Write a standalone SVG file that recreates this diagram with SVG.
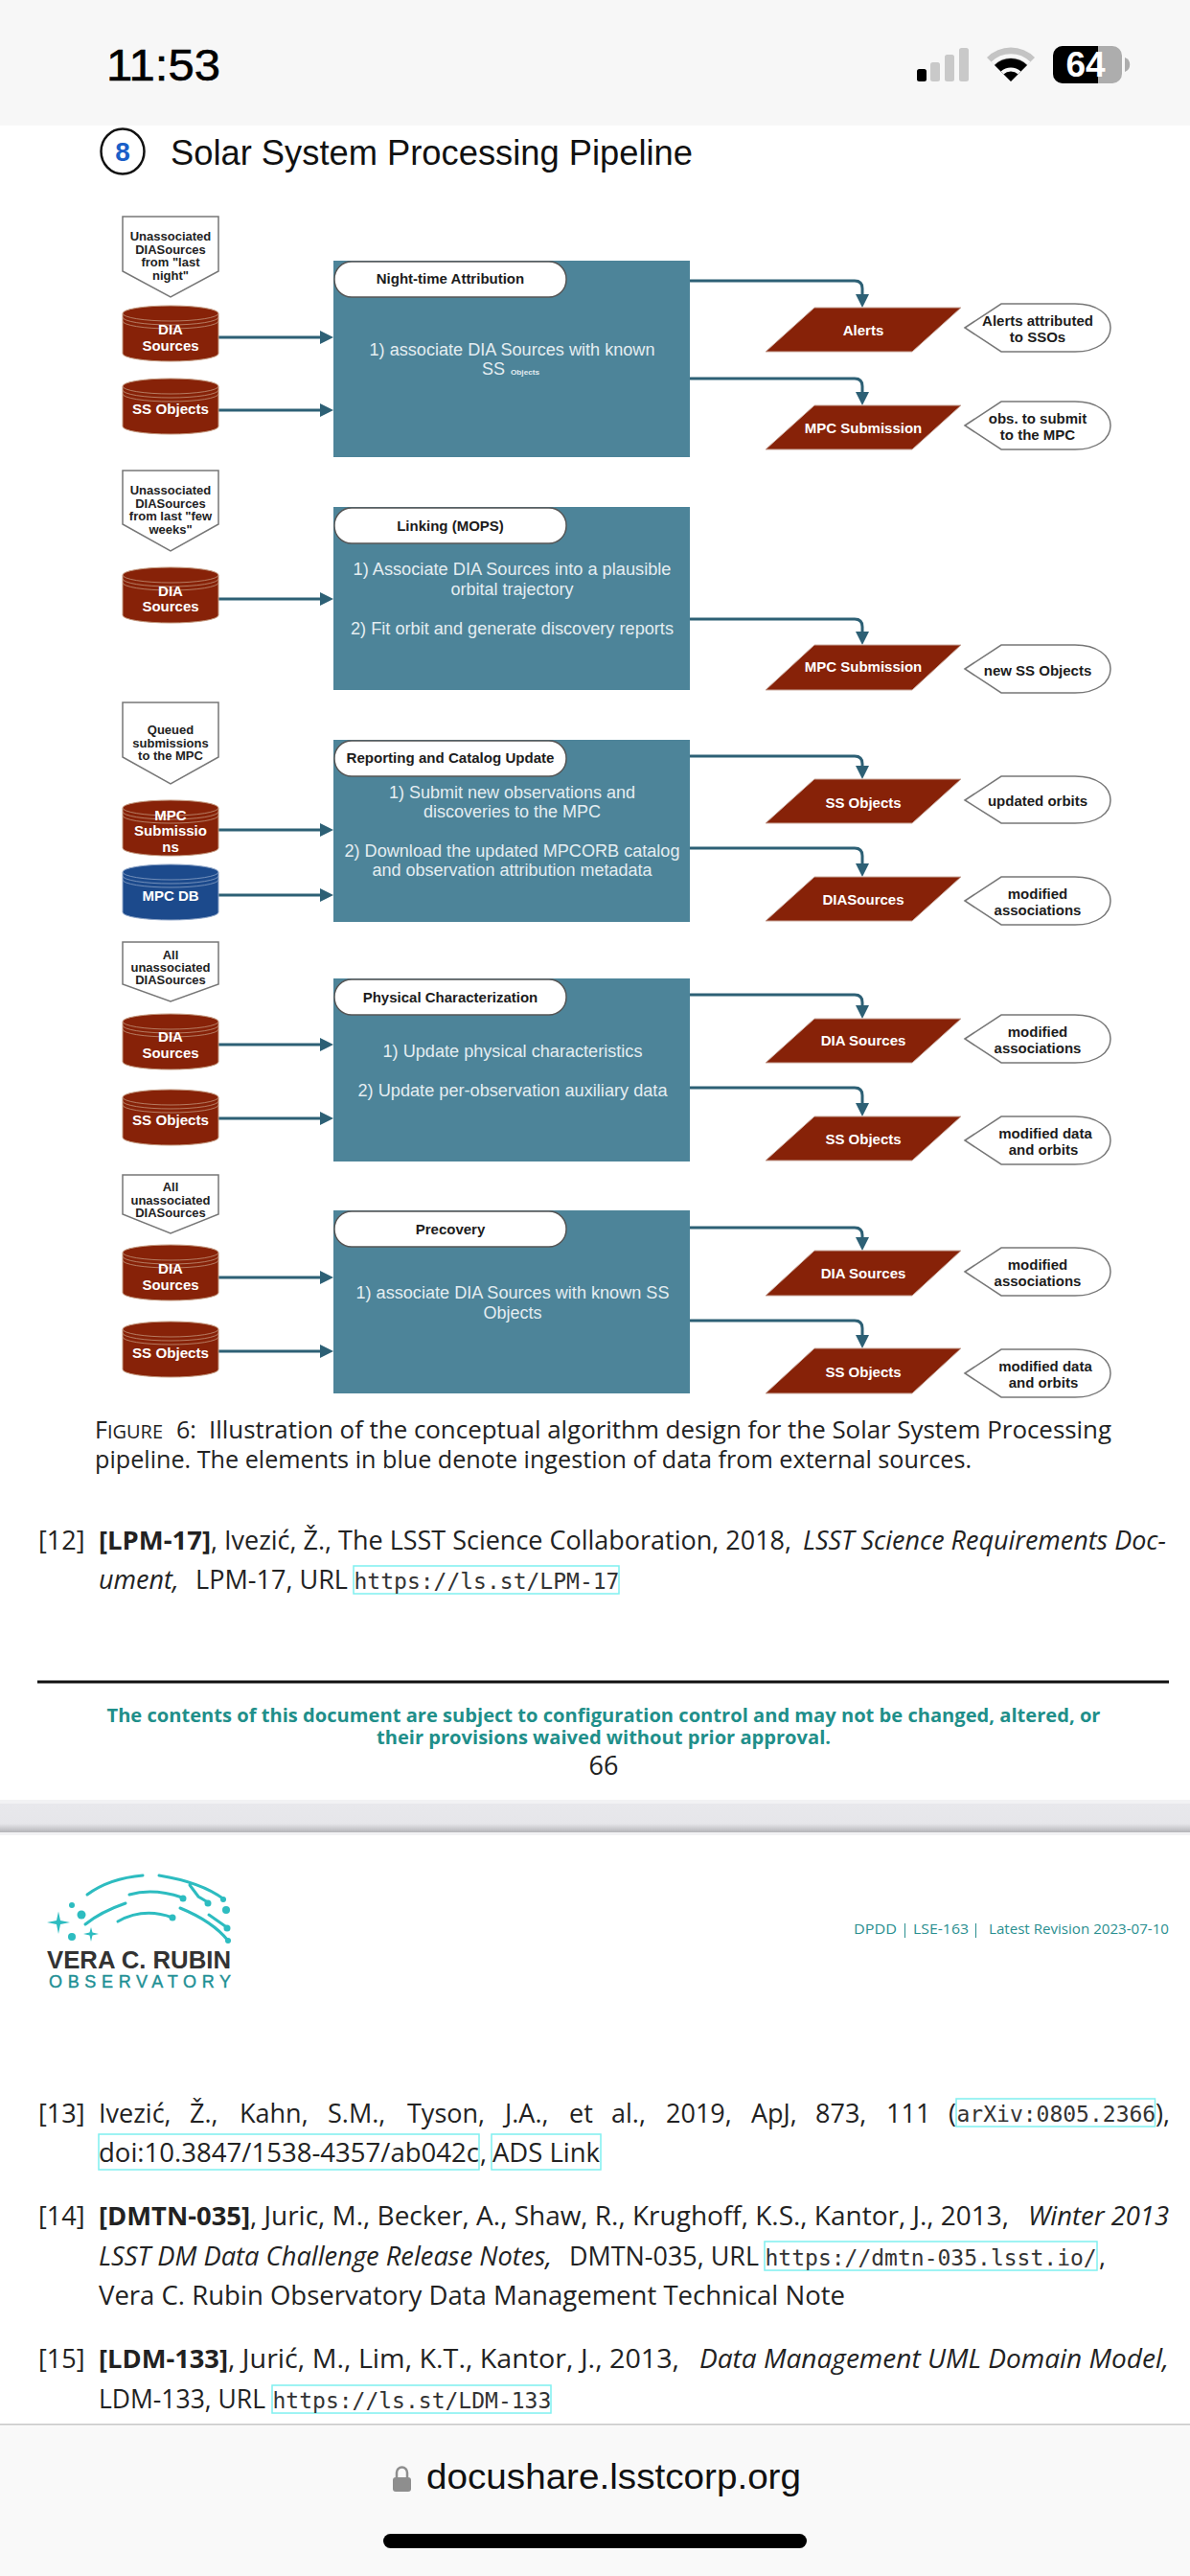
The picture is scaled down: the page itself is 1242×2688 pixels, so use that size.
<svg xmlns="http://www.w3.org/2000/svg" width="1242" height="2688" viewBox="0 0 1242 2688">
<style>
text{font-family:"Liberation Sans",Arial,sans-serif}
.box{fill:#4d8499}
.pill{fill:#fff;stroke:#555;stroke-width:1.5}
.note{fill:#fff;stroke:#777;stroke-width:1.5}
.call{fill:#fff;stroke:#777;stroke-width:1.5}
.para{fill:#872208;stroke:#c9a89c;stroke-width:1}
.red{fill:#872208;color:#c49a80}
.blue{fill:#1c4a8c;color:#8fa6c8}
.n{font-size:13px;font-weight:700;fill:#222;text-anchor:middle}
.w{font-size:15px;font-weight:700;fill:#fff;text-anchor:middle}
.k{font-size:15px;font-weight:700;fill:#1c1c1c;text-anchor:middle}
.b{font-size:18px;fill:#e4edf1;text-anchor:middle}
.o{font-family:"Open Sans","Noto Sans",sans-serif;font-size:27px;fill:#222}
.c{font-family:"Open Sans","Noto Sans",sans-serif;font-size:25px;fill:#222}
.ob{font-weight:700}
.oi{font-style:italic}
.m{font-family:"DejaVu Sans Mono","Liberation Mono",monospace;font-size:23px;fill:#333}
.g{font-family:"Open Sans","Noto Sans",sans-serif;font-size:20px;font-weight:700;fill:#1f8f8a;text-anchor:middle}
.lnk{fill:none;stroke:#7ff0f0;stroke-width:1.5}
.cn path{fill:none;stroke:#2d6075;stroke-width:3;marker-end:url(#ah)}
.lg{fill:none;stroke:#2dbcc0;stroke-width:3;stroke-linecap:round}
.ld{fill:#2dbcc0}
.h{font-family:"Open Sans","Noto Sans",sans-serif;font-size:14px;fill:#2a8f90}
</style>
<defs>
<marker id="ah" markerUnits="userSpaceOnUse" markerWidth="14" markerHeight="14" refX="8" refY="7" orient="auto"><path d="M0 0L14 7L0 14Z" fill="#2d6075"/></marker>
<g id="cyl">
<path d="M0 8A50 8 0 0 1 100 8V50A50 8 0 0 1 0 50Z" stroke="currentColor" stroke-width="1"/>
<path d="M0 8A50 8 0 0 0 100 8M0 12A50 8 0 0 0 100 12M0 16A50 8 0 0 0 100 16" fill="none" stroke="currentColor" stroke-width="1" stroke-opacity=".75"/>
</g>
<linearGradient id="band" x1="0" y1="0" x2="0" y2="1"><stop offset="0" stop-color="#e8e8ec"/><stop offset=".7" stop-color="#e6e6ea"/><stop offset="1" stop-color="#b4b4b8"/></linearGradient>
</defs>
<rect width="1242" height="2688" fill="#fff"/>

<g id="status-bar">
<rect width="1242" height="131" fill="#f7f7f7"/>
<text x="111" y="84" font-size="46" font-weight="400" fill="#000" stroke="#000" stroke-width=".6" textLength="119" lengthAdjust="spacingAndGlyphs">11:53</text>
<rect x="957" y="72" width="10" height="13" rx="2.5" fill="#000"/>
<rect x="971" y="65" width="10" height="20" rx="2.5" fill="#c9c9c9"/>
<rect x="986" y="57" width="10" height="28" rx="2.5" fill="#c9c9c9"/>
<rect x="1001" y="50" width="10" height="35" rx="2.5" fill="#c9c9c9"/>
<path d="M1055 85L1030 60A35 35 0 0 1 1080 60Z" fill="#c4c4c4"/>
<path d="M1055 85L1038 68A24 24 0 0 1 1072 68Z" fill="#000"/>
<path d="M1036 66A27 27 0 0 1 1074 66M1046 76A13 13 0 0 1 1064 76" fill="none" stroke="#f7f7f7" stroke-width="4"/>
<rect x="1099" y="48" width="72" height="39" rx="10" fill="#adadad"/>
<path d="M1109 48H1146V87H1109A10 10 0 0 1 1099 77V58A10 10 0 0 1 1109 48Z" fill="#000"/>
<path d="M1174 60A8 8 0 0 1 1174 75Z" fill="#adadad"/>
<text x="1133" y="80" font-size="37" font-weight="700" fill="#fff" text-anchor="middle">64</text>
</g>

<g id="title">
<ellipse cx="128" cy="158" rx="22.5" ry="23.5" fill="#fff" stroke="#111" stroke-width="2.5"/>
<text x="128" y="168" font-size="28" font-weight="700" fill="#1a5fc8" text-anchor="middle">8</text>
<text x="178" y="172" font-size="37" fill="#111" textLength="545" lengthAdjust="spacingAndGlyphs">Solar System Processing Pipeline</text>
</g>

<g id="connectors" class="cn">
<path d="M228 352H342"/><path d="M228 428H342"/>
<path d="M720 293H892Q900 293 900 301V315"/><path d="M720 395H892Q900 395 900 403V417"/>
<path d="M228 625H342"/>
<path d="M720 646H892Q900 646 900 654V667"/>
<path d="M228 866H342"/><path d="M228 934H342"/>
<path d="M720 789H892Q900 789 900 797V807"/><path d="M720 885H892Q900 885 900 893V909"/>
<path d="M228 1090H342"/><path d="M228 1167H342"/>
<path d="M720 1038H892Q900 1038 900 1046V1057"/><path d="M720 1135H892Q900 1135 900 1143V1159"/>
<path d="M228 1333H342"/><path d="M228 1410H342"/>
<path d="M720 1281H892Q900 1281 900 1289V1299"/><path d="M720 1378H892Q900 1378 900 1386V1401"/>
</g>

<g id="note-1"><polygon class="note" points="128,226 228,226 228,283 178,310 128,283"/>
<text class="n" x="178" y="251">Unassociated</text><text class="n" x="178" y="265">DIASources</text><text class="n" x="178" y="278">from "last</text><text class="n" x="178" y="292">night"</text></g>
<g id="cyl-1a" class="red"><use href="#cyl" x="128" y="319"/><text class="w" x="178" y="349">DIA</text><text class="w" x="178" y="366">Sources</text></g>
<g id="cyl-1b" class="red"><use href="#cyl" x="128" y="395"/><text class="w" x="178" y="432" textLength="80" lengthAdjust="spacingAndGlyphs">SS Objects</text></g>
<g id="box-1"><rect class="box" x="348" y="272" width="372" height="205"/><rect class="pill" x="349" y="273" width="242" height="37" rx="18"/>
<text class="k" x="470" y="296">Night-time Attribution</text>
<text class="b" x="534.5" y="371" textLength="298" lengthAdjust="spacingAndGlyphs">1) associate DIA Sources with known</text>
<text class="b" x="515" y="391">SS</text><text x="548" y="391" font-size="8" font-weight="700" fill="#e4edf1" text-anchor="middle" textLength="30" lengthAdjust="spacingAndGlyphs">Objects</text></g>
<g id="out-1a"><polygon class="para" points="850,321 1003,321 952,367 799,367"/><text class="w" x="901" y="349.5">Alerts</text></g>
<g id="call-1a"><path class="call" d="M1007 342L1045 317H1122C1145 317 1159 328 1159 342S1145 367 1122 367H1045Z"/><text class="k" x="1083" y="339.5">Alerts attributed</text><text class="k" x="1083" y="356.5">to SSOs</text></g>
<g id="out-1b"><polygon class="para" points="850,423 1003,423 952,469 799,469"/><text class="w" x="901" y="451.5">MPC Submission</text></g>
<g id="call-1b"><path class="call" d="M1007 444L1045 419H1122C1145 419 1159 430 1159 444S1145 469 1122 469H1045Z"/><text class="k" x="1083" y="442">obs. to submit</text><text class="k" x="1083" y="458.5">to the MPC</text></g>

<g id="note-2"><polygon class="note" points="128,491 228,491 228,547 178,575 128,547"/>
<text class="n" x="178" y="516">Unassociated</text><text class="n" x="178" y="530">DIASources</text><text class="n" x="178" y="543">from last "few</text><text class="n" x="178" y="557">weeks"</text></g>
<g id="cyl-2a" class="red"><use href="#cyl" x="128" y="592"/><text class="w" x="178" y="622">DIA</text><text class="w" x="178" y="638">Sources</text></g>
<g id="box-2"><rect class="box" x="348" y="529" width="372" height="191"/><rect class="pill" x="349" y="530" width="242" height="37" rx="18"/>
<text class="k" x="470" y="554">Linking (MOPS)</text>
<text class="b" x="534.5" y="600" textLength="332" lengthAdjust="spacingAndGlyphs">1) Associate DIA Sources into a plausible</text>
<text class="b" x="534.5" y="621">orbital trajectory</text>
<text class="b" x="534.5" y="662" textLength="337" lengthAdjust="spacingAndGlyphs">2) Fit orbit and generate discovery reports</text></g>
<g id="out-2a"><polygon class="para" points="850,673 1003,673 952,720 799,720"/><text class="w" x="901" y="701">MPC Submission</text></g>
<g id="call-2a"><path class="call" d="M1007 698L1045 673H1122C1145 673 1159 684 1159 698S1145 723 1122 723H1045Z"/><text class="k" x="1083" y="704.5">new SS Objects</text></g>

<g id="note-3"><polygon class="note" points="128,733 228,733 228,790 178,818 128,790"/>
<text class="n" x="178" y="765.5">Queued</text><text class="n" x="178" y="779.5">submissions</text><text class="n" x="178" y="792.5">to the MPC</text></g>
<g id="cyl-3a" class="red"><use href="#cyl" x="128" y="835"/><text class="w" x="178" y="855.5">MPC</text><text class="w" x="178" y="872">Submissio</text><text class="w" x="178" y="888.5">ns</text></g>
<g id="cyl-3b" class="blue"><use href="#cyl" x="128" y="902"/><text class="w" x="178" y="939.5">MPC DB</text></g>
<g id="box-3"><rect class="box" x="348" y="772" width="372" height="190"/><rect class="pill" x="349" y="773" width="242" height="37" rx="18"/>
<text class="k" x="470" y="796" textLength="217" lengthAdjust="spacingAndGlyphs">Reporting and Catalog Update</text>
<text class="b" x="534.5" y="833">1) Submit new observations and</text>
<text class="b" x="534.5" y="853">discoveries to the MPC</text>
<text class="b" x="534.5" y="894" textLength="350" lengthAdjust="spacingAndGlyphs">2) Download the updated MPCORB catalog</text>
<text class="b" x="534.5" y="914">and observation attribution metadata</text></g>
<g id="out-3a"><polygon class="para" points="850,813 1003,813 952,859 799,859"/><text class="w" x="901" y="842.5">SS Objects</text></g>
<g id="call-3a"><path class="call" d="M1007 835L1045 810H1122C1145 810 1159 821 1159 835S1145 859 1122 859H1045Z"/><text class="k" x="1083" y="840.5">updated orbits</text></g>
<g id="out-3b"><polygon class="para" points="850,915 1003,915 952,961 799,961"/><text class="w" x="901" y="943.5">DIASources</text></g>
<g id="call-3b"><path class="call" d="M1007 940L1045 915H1122C1145 915 1159 926 1159 940S1145 965 1122 965H1045Z"/><text class="k" x="1083" y="937.5">modified</text><text class="k" x="1083" y="954.5">associations</text></g>

<g id="note-4"><polygon class="note" points="128,983 228,983 228,1027 178,1045 128,1027"/>
<text class="n" x="178" y="1000.5">All</text><text class="n" x="178" y="1013.5">unassociated</text><text class="n" x="178" y="1027">DIASources</text></g>
<g id="cyl-4a" class="red"><use href="#cyl" x="128" y="1058"/><text class="w" x="178" y="1087">DIA</text><text class="w" x="178" y="1104">Sources</text></g>
<g id="cyl-4b" class="red"><use href="#cyl" x="128" y="1137"/><text class="w" x="178" y="1174" textLength="80" lengthAdjust="spacingAndGlyphs">SS Objects</text></g>
<g id="box-4"><rect class="box" x="348" y="1021" width="372" height="191"/><rect class="pill" x="349" y="1022" width="242" height="37" rx="18"/>
<text class="k" x="470" y="1046">Physical Characterization</text>
<text class="b" x="535" y="1103" textLength="271" lengthAdjust="spacingAndGlyphs">1) Update physical characteristics</text>
<text class="b" x="535" y="1144" textLength="323" lengthAdjust="spacingAndGlyphs">2) Update per-observation auxiliary data</text></g>
<g id="out-4a"><polygon class="para" points="850,1063 1003,1063 952,1109 799,1109"/><text class="w" x="901" y="1091">DIA Sources</text></g>
<g id="call-4a"><path class="call" d="M1007 1084L1045 1059H1122C1145 1059 1159 1070 1159 1084S1145 1109 1122 1109H1045Z"/><text class="k" x="1083" y="1081.5">modified</text><text class="k" x="1083" y="1098.5">associations</text></g>
<g id="out-4b"><polygon class="para" points="850,1165 1003,1165 952,1211 799,1211"/><text class="w" x="901" y="1193.5">SS Objects</text></g>
<g id="call-4b"><path class="call" d="M1007 1190L1045 1165H1122C1145 1165 1159 1176 1159 1190S1145 1215 1122 1215H1045Z"/><text class="k" x="1091" y="1187.5">modified data</text><text class="k" x="1089" y="1204.5">and orbits</text></g>

<g id="note-5"><polygon class="note" points="128,1226 228,1226 228,1267 178,1287 128,1267"/>
<text class="n" x="178" y="1242.5">All</text><text class="n" x="178" y="1256.5">unassociated</text><text class="n" x="178" y="1269.5">DIASources</text></g>
<g id="cyl-5a" class="red"><use href="#cyl" x="128" y="1299"/><text class="w" x="178" y="1329">DIA</text><text class="w" x="178" y="1346">Sources</text></g>
<g id="cyl-5b" class="red"><use href="#cyl" x="128" y="1379"/><text class="w" x="178" y="1417" textLength="80" lengthAdjust="spacingAndGlyphs">SS Objects</text></g>
<g id="box-5"><rect class="box" x="348" y="1263" width="372" height="191"/><rect class="pill" x="349" y="1264" width="242" height="37" rx="18"/>
<text class="k" x="470" y="1288">Precovery</text>
<text class="b" x="535" y="1355" textLength="327" lengthAdjust="spacingAndGlyphs">1) associate DIA Sources with known SS</text>
<text class="b" x="535" y="1376">Objects</text></g>
<g id="out-5a"><polygon class="para" points="850,1305 1003,1305 952,1352 799,1352"/><text class="w" x="901" y="1333.5">DIA Sources</text></g>
<g id="call-5a"><path class="call" d="M1007 1327L1045 1302H1122C1145 1302 1159 1313 1159 1327S1145 1352 1122 1352H1045Z"/><text class="k" x="1083" y="1324.5">modified</text><text class="k" x="1083" y="1341.5">associations</text></g>
<g id="out-5b"><polygon class="para" points="850,1407 1003,1407 952,1454 799,1454"/><text class="w" x="901" y="1436.5">SS Objects</text></g>
<g id="call-5b"><path class="call" d="M1007 1433L1045 1408H1122C1145 1408 1159 1419 1159 1433S1145 1458 1122 1458H1045Z"/><text class="k" x="1091" y="1430.5">modified data</text><text class="k" x="1089" y="1447.5">and orbits</text></g>

<g id="page-66">
<text class="c" x="99" y="1501" textLength="71" lengthAdjust="spacingAndGlyphs">F<tspan font-size="20">IGURE</tspan></text>
<text class="c" x="184" y="1501">6:</text>
<text class="c" x="218" y="1501" textLength="942" lengthAdjust="spacingAndGlyphs">Illustration of the conceptual algorithm design for the Solar System Processing</text>
<text class="c" x="99" y="1532" textLength="915" lengthAdjust="spacingAndGlyphs">pipeline. The elements in blue denote ingestion of data from external sources.</text>
<text class="o" x="40" y="1617">[12]</text>
<text class="o ob" x="103" y="1617" textLength="117" lengthAdjust="spacingAndGlyphs">[LPM-17]</text>
<text class="o" x="220" y="1617" textLength="606" lengthAdjust="spacingAndGlyphs">, Ivezić, Ž., The LSST Science Collaboration, 2018,</text>
<text class="o oi" x="838" y="1617" textLength="379" lengthAdjust="spacingAndGlyphs">LSST Science Requirements Doc-</text>
<text class="o oi" x="103" y="1658">ument,</text>
<text class="o" x="204" y="1658" textLength="159" lengthAdjust="spacingAndGlyphs">LPM-17, URL</text>
<rect class="lnk" x="369" y="1634" width="277" height="29"/>
<text class="m" x="369.500" y="1658">https://ls.st/LPM-17</text>
<rect x="39" y="1753.5" width="1181" height="3" fill="#111"/>
<text class="g" x="630" y="1797" textLength="1037" lengthAdjust="spacingAndGlyphs">The contents of this document are subject to configuration control and may not be changed, altered, or</text>
<text class="g" x="630" y="1820" textLength="474" lengthAdjust="spacingAndGlyphs">their provisions waived without prior approval.</text>
<text class="o" x="630" y="1852" text-anchor="middle">66</text>
</g>

<g id="page-gap"><rect y="1878" width="1242" height="4" fill="#f2f2f4"/><rect y="1882" width="1242" height="30" fill="url(#band)"/><rect y="1912" width="1242" height="3" fill="#f2f2f4"/></g>

<g id="logo">
<path class="lg" d="M91 1977Q114 1960 149 1957M166 1957Q210 1964 234 1982M198 1967L207 1979L217 1985"/>
<path class="lg" d="M135 1977Q160 1970 190 1980"/><circle class="ld" cx="191" cy="1981" r="3.5"/><circle class="ld" cx="217" cy="1986" r="3.5"/><circle class="ld" cx="233" cy="1982" r="3"/>
<path class="lg" d="M89 2008Q105 1995 131 1986M188 1991Q222 2005 238 2025M218 1998L238 2012"/>
<path class="lg" d="M123 2005Q150 1990 180 2001"/><circle class="ld" cx="180" cy="2001" r="3.5"/><circle class="ld" cx="236" cy="1993" r="4"/><circle class="ld" cx="237" cy="2012" r="3.5"/><circle class="ld" cx="238" cy="2025" r="3"/>
<path class="ld" d="M61 1994.5L63 2004L73 2006L63 2008L61 2018L59 2008L49 2006L59 2004Z"/>
<path class="ld" d="M95 2011L96.500 2016.500L103 2018L96.500 2019.500L95 2026L93.500 2019.500L87 2018L93.500 2016.500Z"/>
<circle class="ld" cx="75" cy="1988" r="3"/><circle class="ld" cx="85" cy="1998" r="4.500"/><circle class="ld" cx="75" cy="2021" r="4"/>
<text x="49" y="2054" font-size="25" font-weight="700" fill="#333" textLength="192" lengthAdjust="spacingAndGlyphs">VERA C. RUBIN</text>
<text x="51" y="2074" font-size="18" fill="#1d8f94" stroke="#1d8f94" stroke-width=".4" textLength="190" lengthAdjust="spacing">OBSERVATORY</text>
</g>

<g id="page-67">
<text class="h" x="891" y="2018" textLength="45" lengthAdjust="spacingAndGlyphs">DPDD</text>
<text class="h" x="953" y="2018" textLength="58" lengthAdjust="spacingAndGlyphs">LSE-163</text>
<text class="h" x="1032" y="2018" textLength="188" lengthAdjust="spacingAndGlyphs">Latest Revision 2023-07-10</text>
<path d="M944.500 2007V2022M1018.500 2007V2022" stroke="#2a8f90" stroke-width="1"/>
<text class="o" x="40" y="2215">[13]</text>
<text class="o" y="2215"><tspan x="103">Ivezić,</tspan><tspan x="198">Ž.,</tspan><tspan x="250">Kahn,</tspan><tspan x="342">S.M.,</tspan><tspan x="425">Tyson,</tspan><tspan x="527">J.A.,</tspan><tspan x="594">et</tspan><tspan x="638">al.,</tspan><tspan x="695">2019,</tspan><tspan x="784">ApJ,</tspan><tspan x="851">873,</tspan><tspan x="925">111</tspan><tspan x="990">(</tspan></text>
<rect class="lnk" x="998" y="2190" width="207.500" height="29"/>
<text class="m" x="998.500" y="2214">arXiv:0805.2366</text>
<text class="o" x="1206" y="2215">),</text>
<rect class="lnk" x="103" y="2227" width="397" height="37"/>
<text class="o" x="103" y="2256" textLength="397" lengthAdjust="spacingAndGlyphs">doi:10.3847/1538-4357/ab042c</text>
<text class="o" x="501" y="2256">,</text>
<rect class="lnk" x="513" y="2227" width="114" height="37"/>
<text class="o" x="514" y="2256" textLength="112" lengthAdjust="spacingAndGlyphs">ADS Link</text>
<text class="o" x="40" y="2322">[14]</text>
<text class="o ob" x="103" y="2322" textLength="158" lengthAdjust="spacingAndGlyphs">[DMTN-035]</text>
<text class="o" x="261" y="2322" textLength="792" lengthAdjust="spacingAndGlyphs">, Juric, M., Becker, A., Shaw, R., Krughoff, K.S., Kantor, J., 2013,</text>
<text class="o oi" x="1073" y="2322" textLength="147" lengthAdjust="spacingAndGlyphs">Winter 2013</text>
<text class="o oi" x="103" y="2364" textLength="473" lengthAdjust="spacingAndGlyphs">LSST DM Data Challenge Release Notes,</text>
<text class="o" x="594" y="2364" textLength="198" lengthAdjust="spacingAndGlyphs">DMTN-035, URL</text>
<rect class="lnk" x="798" y="2339" width="347" height="30"/>
<text class="m" x="798.500" y="2364">https://dmtn-035.lsst.io/</text>
<text class="o" x="1147" y="2364">,</text>
<text class="o" x="103" y="2405" textLength="779" lengthAdjust="spacingAndGlyphs">Vera C. Rubin Observatory Data Management Technical Note</text>
<text class="o" x="40" y="2471">[15]</text>
<text class="o ob" x="103" y="2471" textLength="135" lengthAdjust="spacingAndGlyphs">[LDM-133]</text>
<text class="o" x="238" y="2471" textLength="471" lengthAdjust="spacingAndGlyphs">, Jurić, M., Lim, K.T., Kantor, J., 2013,</text>
<text class="o oi" x="730" y="2471" textLength="490" lengthAdjust="spacingAndGlyphs">Data Management UML Domain Model,</text>
<text class="o" x="103" y="2513" textLength="174" lengthAdjust="spacingAndGlyphs">LDM-133, URL</text>
<rect class="lnk" x="284" y="2489" width="291" height="29"/>
<text class="m" x="284.500" y="2513">https://ls.st/LDM-133</text>
</g>

<g id="browser-bar">
<rect y="2529" width="1242" height="159" fill="#f9f9f9"/>
<rect y="2529" width="1242" height="1.500" fill="#c8c8c8"/>
<rect x="410" y="2585" width="19" height="15" rx="3" fill="#8e8e8e"/>
<path d="M414 2586V2580A5.500 5.500 0 0 1 425 2580V2586" fill="none" stroke="#8e8e8e" stroke-width="2.500"/>
<text x="445" y="2597" font-size="37" fill="#111" textLength="391" lengthAdjust="spacingAndGlyphs">docushare.lsstcorp.org</text>
<rect x="400" y="2644" width="442" height="15" rx="7.500" fill="#000"/>
</g>
</svg>
